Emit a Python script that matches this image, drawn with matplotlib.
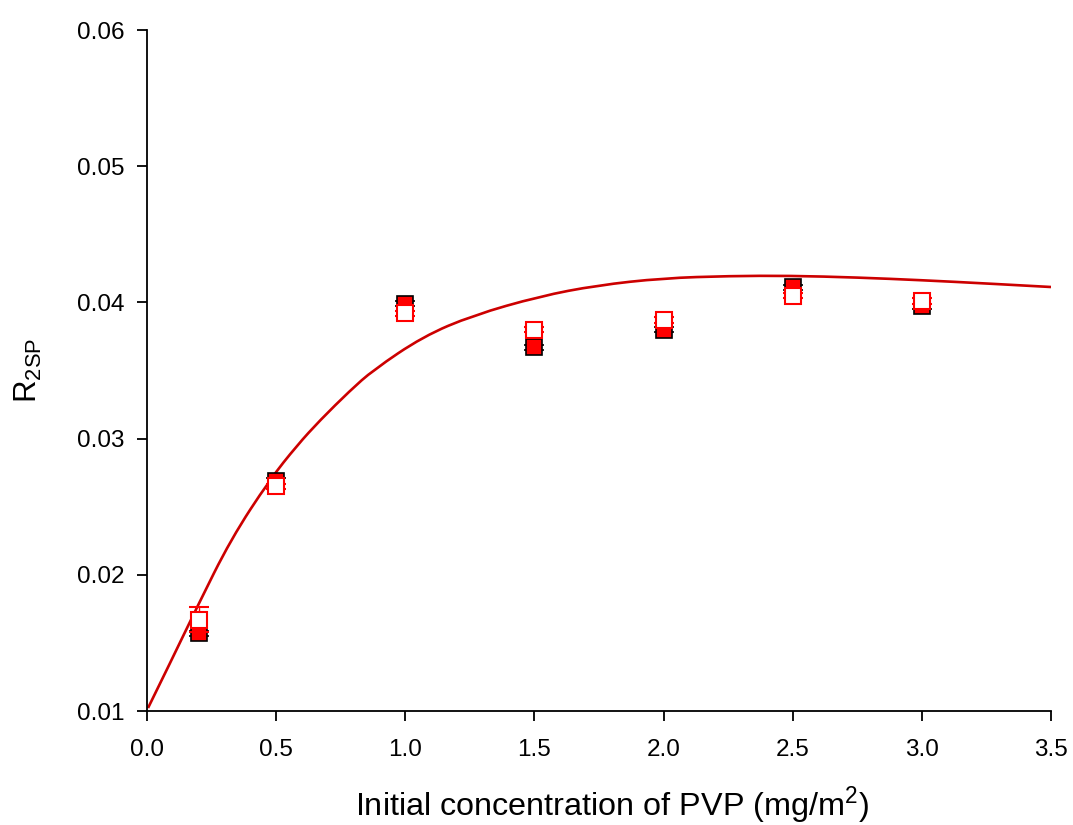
import matplotlib
matplotlib.use("Agg")
import matplotlib.pyplot as plt
from matplotlib.path import Path
from matplotlib.patches import PathPatch

plt.rcParams['font.family'] = ['Liberation Sans', 'DejaVu Sans']
plt.rcParams['mathtext.fontset'] = 'custom'
plt.rcParams['mathtext.rm'] = 'Liberation Sans'

# Data
conc = [0.2, 0.5, 1.0, 1.5, 2.0, 2.5, 3.0]
r2sp_filled = [0.0157, 0.0269, 0.0399, 0.0367, 0.0380, 0.0411, 0.0397]
err_filled = [0.0002, 0.0002, 0.0002, 0.0002, 0.0002, 0.0002, 0.0002]
r2sp_open = [0.0167, 0.0265, 0.0392, 0.0380, 0.0387, 0.0405, 0.0401]
err_open = [0.0009, 0.0002, 0.0002, 0.0002, 0.0002, 0.0002, 0.0002]

fit_x = [0.004, 0.1, 0.194, 0.325, 0.476, 0.581, 0.670, 0.786, 0.875, 1.069,
         1.262, 1.521, 1.742, 1.998, 2.257, 2.489, 2.75, 3.0, 3.25, 3.5]
fit_y = [0.01022, 0.01393, 0.01764, 0.02262, 0.02700, 0.02950, 0.03135, 0.03352,
         0.03502, 0.03750, 0.03905, 0.04045, 0.04125, 0.04178, 0.04194, 0.04196,
         0.04183, 0.04163, 0.04139, 0.04113]

xticks = [0.0, 0.5, 1.0, 1.5, 2.0, 2.5, 3.0, 3.5]
yticks = [0.01, 0.02, 0.03, 0.04, 0.05, 0.06]

fig = plt.figure(figsize=(10.73, 8.25), dpi=100)
ax = fig.add_axes([147/1073, 1 - 711/825, (1051-147)/1073, (711-30)/825])

# smooth curve through the read points (quadratic Bezier via midpoints)
pts = list(zip(fit_x, fit_y))
verts = [pts[0]]
codes = [Path.MOVETO]
for i in range(1, len(pts) - 1):
    mid = ((pts[i][0] + pts[i+1][0]) / 2, (pts[i][1] + pts[i+1][1]) / 2)
    if i == len(pts) - 2:
        mid = pts[i+1]
    verts += [pts[i], mid]
    codes += [Path.CURVE3, Path.CURVE3]
ax.add_patch(PathPatch(Path(verts, codes), facecolor='none', edgecolor='#CC0000',
                       lw=1.9, zorder=2, transform=ax.transData))

ax.errorbar(conc, r2sp_filled, yerr=err_filled, fmt='s', ms=12,
            mfc='#FF0000', mec='black', mew=1.2, ecolor='black',
            elinewidth=1, capsize=7, capthick=1, zorder=3)
ax.errorbar(conc, r2sp_open, yerr=err_open, fmt='s', ms=12,
            mfc='white', mec='#FF0000', mew=1.5, ecolor='#FF0000',
            elinewidth=1, capsize=7, capthick=1.2, zorder=4)

ax.set_xlim(0, 3.5)
ax.set_ylim(0.01, 0.06)
ax.set_xticks(xticks)
ax.set_xticklabels([f"{v:.1f}" for v in xticks])
ax.set_yticks(yticks)
ax.set_yticklabels([f"{v:.2f}" for v in yticks])

for s in ['top', 'right']:
    ax.spines[s].set_visible(False)
for s in ['left', 'bottom']:
    ax.spines[s].set_linewidth(1.3)
ax.tick_params(direction='out', length=7, width=1.3, labelsize=17.5)
ax.tick_params(axis='x', pad=13)
ax.tick_params(axis='y', pad=9)

ax.set_xlabel('Initial concentration of PVP (mg/m$^{\\mathregular{2}}$)', fontsize=23.3)
ax.xaxis.set_label_coords((612 - 147) / 904, -(806 - 711) / 681, transform=ax.transAxes)
ax.xaxis.label.set_va('center')
ax.set_ylabel('R$_{\\mathregular{2SP}}$', fontsize=22.5)
ax.yaxis.set_label_coords(-(147 - 28) / 904, 0.5, transform=ax.transAxes)
ax.yaxis.label.set_va('center')

fig.savefig('out.png', dpi=100)
